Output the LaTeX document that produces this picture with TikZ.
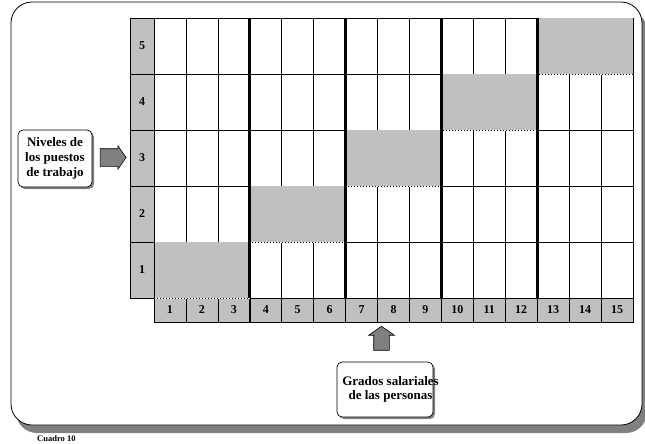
\documentclass[tikz,border=0pt]{standalone}
\usepackage{fontspec}
\setmainfont{Liberation Serif}
\usetikzlibrary{shapes.arrows,shadows}
\definecolor{celda}{HTML}{C0C0C0}
\definecolor{sombra}{HTML}{808080}
\definecolor{flecha}{HTML}{808080}
\tikzset{
  marco/.style={draw=black, fill=white, line width=0.8pt, rounded corners=21pt},
  gridline/.style={black, line width=0.6pt},
  bloque/.style={fill=celda},
  bordeblanco/.style={white, dash pattern=on 2pt off 1pt, line width=0.7pt},
  separador/.style={black, line width=3pt},
  nivelcelda/.style={draw=black, fill=celda, line width=0.6pt, minimum width=24pt, minimum height=56pt, inner sep=0pt, font=\fontsize{12}{12}\selectfont\bfseries},
  gradocelda/.style={draw=black, fill=celda, line width=0.6pt, minimum width=31.93pt, minimum height=24pt, inner sep=0pt, font=\fontsize{12}{12}\selectfont\bfseries},
  caja/.style={draw=black, fill=white, rounded corners=5pt, line width=0.7pt, inner sep=0pt, drop shadow={shadow xshift=2pt, shadow yshift=-2pt, fill=sombra, opacity=1}},
  cajatexto/.style={align=center, inner sep=0pt, font=\fontsize{13}{14.7}\selectfont\bfseries},
  flechabloque/.style={single arrow, draw=black, fill=flecha, line width=0.6pt, single arrow tip angle=110, single arrow head indent=0pt}
}
\begin{document}
\begin{tikzpicture}[x=1pt,y=-1pt]
        \useasboundingbox (0,0) rectangle (645,444);
        \fill[sombra, rounded corners=21pt] (16,10) rectangle (647,433);
        \draw[marco] (11,2) rectangle (642,425);

        \draw[gridline] (154,18) -- (633,18);
        \draw[gridline] (154,74) -- (633,74);
        \draw[gridline] (154,130) -- (633,130);
        \draw[gridline] (154,186) -- (633,186);
        \draw[gridline] (154,242) -- (633,242);
        \draw[gridline] (154,298) -- (633,298);
        \draw[gridline] (154,18) -- (154,298);
        \draw[gridline] (185.93,18) -- (185.93,298);
        \draw[gridline] (217.87,18) -- (217.87,298);
        \draw[gridline] (281.73,18) -- (281.73,298);
        \draw[gridline] (313.67,18) -- (313.67,298);
        \draw[gridline] (377.53,18) -- (377.53,298);
        \draw[gridline] (409.47,18) -- (409.47,298);
        \draw[gridline] (473.33,18) -- (473.33,298);
        \draw[gridline] (505.27,18) -- (505.27,298);
        \draw[gridline] (569.13,18) -- (569.13,298);
        \draw[gridline] (601.07,18) -- (601.07,298);
        \draw[gridline] (633,18) -- (633,298);

        \fill[bloque] (154,242) rectangle (249.8,298);
        \fill[bloque] (249.8,186) rectangle (345.6,242);
        \fill[bloque] (345.6,130) rectangle (441.4,186);
        \fill[bloque] (441.4,74) rectangle (537.2,130);
        \fill[bloque] (537.2,18) rectangle (633,74);

        \node[nivelcelda] (n5) at (142,46) {5};
        \node[nivelcelda] (n4) at (142,102) {4};
        \node[nivelcelda] (n3) at (142,158) {3};
        \node[nivelcelda] (n2) at (142,214) {2};
        \node[nivelcelda] (n1) at (142,270) {1};

        \node[gradocelda] (g1) at (169.97,310) {1};
        \node[gradocelda] (g2) at (201.9,310) {2};
        \node[gradocelda] (g3) at (233.83,310) {3};
        \node[gradocelda] (g4) at (265.77,310) {4};
        \node[gradocelda] (g5) at (297.7,310) {5};
        \node[gradocelda] (g6) at (329.63,310) {6};
        \node[gradocelda] (g7) at (361.57,310) {7};
        \node[gradocelda] (g8) at (393.5,310) {8};
        \node[gradocelda] (g9) at (425.43,310) {9};
        \node[gradocelda] (g10) at (457.37,310) {10};
        \node[gradocelda] (g11) at (489.3,310) {11};
        \node[gradocelda] (g12) at (521.23,310) {12};
        \node[gradocelda] (g13) at (553.17,310) {13};
        \node[gradocelda] (g14) at (585.1,310) {14};
        \node[gradocelda] (g15) at (617.03,310) {15};

        \draw[bordeblanco] (154.5,298) -- (249.8,298);
        \draw[bordeblanco] (249.8,242) -- (345.6,242);
        \draw[bordeblanco] (345.6,186) -- (441.4,186);
        \draw[bordeblanco] (441.4,130) -- (537.2,130);
        \draw[bordeblanco] (537.2,74) -- (633,74);

        \draw[separador] (249.8,18) -- (249.8,298);
        \draw[separador] (345.6,18) -- (345.6,298);
        \draw[separador] (441.4,18) -- (441.4,298);
        \draw[separador] (537.2,18) -- (537.2,298);

        \node[caja, cajatexto, minimum width=74pt, minimum height=57pt] (niveles) at (55,158.5) {Niveles de\\los puestos\\de trabajo};
        \node[flechabloque, inner xsep=0pt, inner ysep=8.5pt, minimum height=26pt, single arrow head extend=3pt] (flechaniv) at (110,157.5) {};

        \node[flechabloque, shape border rotate=90, inner xsep=7.5pt, inner ysep=0pt, minimum height=24pt, single arrow head extend=5pt] (flechagra) at (381.5,341) {};
        \node[caja, minimum width=96pt, minimum height=55pt] (grados) at (385,389.5) {};
        \node[cajatexto] (gradostexto) at ([xshift=5.5pt]grados.center) {Grados salariales\\de las personas};

        \node[anchor=base west, inner sep=0pt, font=\fontsize{8.5}{8.5}\selectfont\bfseries] (cuadro) at (37,441) {Cuadro 10};
    \end{tikzpicture}
\end{document}
